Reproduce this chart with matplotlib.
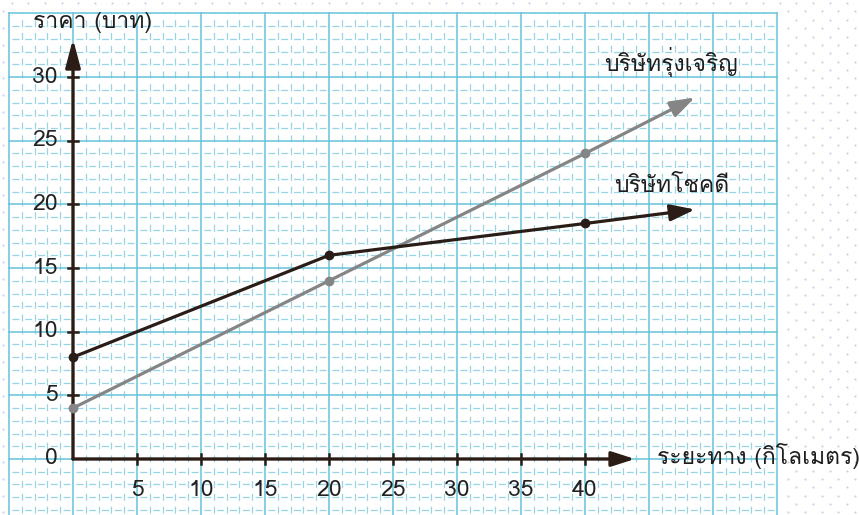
import matplotlib
matplotlib.use("Agg")
import matplotlib.pyplot as plt
from matplotlib import font_manager
from matplotlib.ft2font import FT2Font
from matplotlib.patches import FancyArrowPatch
import numpy as np

# ---- data ----
distance = [0, 20, 40]
rungcharoen = [4, 14, 24]
chokdee = [8, 16, 18.5]
arrow_x = 48.6
rung_arrow_y = 28.4
chok_arrow_y = 19.6
x_ticks = [5, 10, 15, 20, 25, 30, 35, 40]
y_ticks = [0, 5, 10, 15, 20, 25, 30]
label_rung = "บริษัทรุ่งเจริญ"
label_chok = "บริษัทโชคดี"
y_title = "ราคา (บาท)"
x_title = "ระยะทาง (กิโลเมตร)"

# ---- font with Thai coverage ----
thai_fonts = []
for f in font_manager.fontManager.ttflist:
    try:
        cm = FT2Font(f.fname).get_charmap()
        if 0x0E23 in cm and 0x0E1A in cm and f.name not in thai_fonts:
            thai_fonts.append(f.name)
    except Exception:
        pass
families = thai_fonts[:1] + ["DejaVu Sans"]
plt.rcParams["font.family"] = families
plt.rcParams["lines.scale_dashes"] = False

W, H = 859, 515
fig = plt.figure(figsize=(W / 100, H / 100), dpi=100)
ax = fig.add_axes([0, 0, 1, 1])
x0px, y0px, sx, sy = 73, 459, 12.8, 12.73
ax.set_xlim((0 - x0px) / sx, (W - x0px) / sx)
ax.set_ylim((y0px - H) / sy, y0px / sy)
ax.axis("off")

xmin, xmax = ax.get_xlim()
ymin, ymax = ax.get_ylim()
gx0, gx1, gy1 = -5, 55, 35

# background dots outside the grid
dcol = "#c6d3ee"
dx, dy = 16.7 / sx, 8.35 / sy
pts = []
row = 0
yy = ymin + 0.2
while yy <= ymax + 0.5:
    off = (row % 2) * dx / 2
    xx = xmin + 0.25 + off
    while xx <= xmax + 0.5:
        if xx > gx1 + 0.3 or yy > gy1 + 0.2 or xx < gx0 - 0.2:
            pts.append((xx, yy))
        xx += dx
    yy += dy
    row += 1
pts = np.array(pts)
ax.scatter(pts[:, 0], pts[:, 1], s=2.4, color=dcol, linewidths=0, zorder=0)

# grid: minor dashed, major solid
minor_c = "#96d5e6"
major_c = "#66c3da"
cell = 12.8 * 0.72  # points per unit
d, g = 5.0, cell - 5.0
dash = (d + g / 2, (d, g))
for v in np.arange(gx0, gx1 + 1, 1):
    if v % 5:
        ax.plot([v, v], [-5, gy1], color=minor_c, lw=0.9, ls=dash, zorder=1)
for h in np.arange(-4, gy1 + 1, 1):
    if h % 5:
        ax.plot([gx0, gx1], [h, h], color=minor_c, lw=0.9, ls=dash, zorder=1)
for v in np.arange(gx0, gx1 + 1, 5):
    ax.plot([v, v], [ymin, gy1], color=major_c, lw=1.1, zorder=1)
for h in np.arange(0, gy1 + 1, 5):
    ax.plot([gx0, gx1], [h, h], color=major_c, lw=1.1, zorder=1)

# axes with arrows
axc = "#2b1d16"
ax.add_patch(FancyArrowPatch((0, 0), (43.9, 0), arrowstyle="-|>,head_length=1.4,head_width=0.45",
                             mutation_scale=10, color=axc, lw=2.4, shrinkA=0, shrinkB=0, zorder=4))
ax.add_patch(FancyArrowPatch((0, 0), (0, 33.0), arrowstyle="-|>,head_length=1.7,head_width=0.45",
                             mutation_scale=10, color=axc, lw=2.4, shrinkA=0, shrinkB=0, zorder=4))
tl = 0.4
for t in x_ticks:
    ax.plot([t, t], [-tl, tl], color=axc, lw=1.8, zorder=4)
for t in y_ticks[1:]:
    ax.plot([-tl, tl], [t, t], color=axc, lw=1.8, zorder=4)

fs = 16.5
fst = 16.5
for t in x_ticks:
    ax.text(t, -2.45, str(t), ha="center", va="center", fontsize=fs, color="#222222", zorder=5)
for t in y_ticks:
    ax.text(-1.2, t, str(t), ha="right", va="center", fontsize=fs, color="#222222", zorder=5)

# series
gray = "#858585"
dark = "#2a1d17"
ax.plot(distance, rungcharoen, color=gray, lw=2.3, marker="o", ms=6, zorder=6)
ax.add_patch(FancyArrowPatch((distance[-1], rungcharoen[-1]), (arrow_x, rung_arrow_y),
                             arrowstyle="-|>,head_length=1.5,head_width=0.5", mutation_scale=10,
                             color=gray, lw=2.3, shrinkA=0, shrinkB=0, zorder=6))
ax.plot(distance, chokdee, color=dark, lw=2.3, marker="o", ms=6, zorder=7)
ax.add_patch(FancyArrowPatch((distance[-1], chokdee[-1]), (arrow_x, chok_arrow_y),
                             arrowstyle="-|>,head_length=1.5,head_width=0.5", mutation_scale=10,
                             color=dark, lw=2.3, shrinkA=0, shrinkB=0, zorder=7))

tc = "#1e1e1e"
ax.text(46.7, 31.2, label_rung, ha="center", va="center", fontsize=fst, color=tc, zorder=8)
ax.text(46.8, 21.4, label_chok, ha="center", va="center", fontsize=fst, color=tc, zorder=8)
ax.text(-3.1, 34.3, y_title, ha="left", va="center", fontsize=fst, color=tc, zorder=8)
ax.text(45.6, 0.2, x_title, ha="left", va="center", fontsize=fst, color=tc, zorder=8)

fig.savefig("out.png", dpi=100)
